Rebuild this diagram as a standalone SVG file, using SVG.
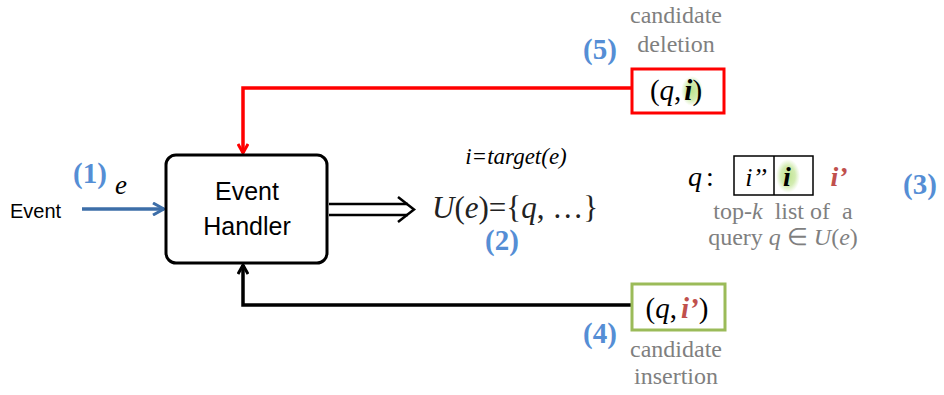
<svg xmlns="http://www.w3.org/2000/svg" width="944" height="395" viewBox="0 0 944 395">
<style>
.num{font-weight:bold;fill:#558ED5;font-size:29px}
.gray{fill:#7f7f7f;font-size:24px}
</style>
<defs>
<marker id="ar" markerWidth="12" markerHeight="12" refX="10" refY="6" orient="auto" markerUnits="userSpaceOnUse"><path d="M1,1 L10,6 L1,11" fill="none" stroke="#ff0000" stroke-width="3"/></marker>
<marker id="ab" markerWidth="12" markerHeight="12" refX="10" refY="6" orient="auto" markerUnits="userSpaceOnUse"><path d="M1,1 L10,6 L1,11" fill="none" stroke="#000" stroke-width="3"/></marker>
<marker id="abl" markerWidth="14" markerHeight="14" refX="12" refY="7" orient="auto" markerUnits="userSpaceOnUse"><path d="M1,1 L12,7 L1,13" fill="none" stroke="#3d6ea8" stroke-width="3"/></marker>
<radialGradient id="glow"><stop offset="0" stop-color="#bfe38f"/><stop offset="0.6" stop-color="#d3ecb2"/><stop offset="1" stop-color="#d8eebb" stop-opacity="0"/></radialGradient>
</defs>
<g id="connectors">
<path d="M632,88 H243 V153" fill="none" stroke="#ff0000" stroke-width="3.5" marker-end="url(#ar)"/>
<path d="M632,305 H243 V265" fill="none" stroke="#000" stroke-width="3.5" marker-end="url(#ab)"/>
<line x1="82" y1="209" x2="164" y2="209" stroke="#3d6ea8" stroke-width="3.5" marker-end="url(#abl)"/>
<g fill="none" stroke="#000" stroke-width="2.5">
<line x1="329" y1="204" x2="408" y2="204"/>
<line x1="329" y1="215" x2="408" y2="215"/>
<path d="M398,197 L414,209.5 L398,222"/>
</g>
</g>
<g id="input">
<text x="10" y="218" font-family="Liberation Sans" font-size="20">Event</text>
<text x="73" y="183" font-family="Liberation Serif" class="num">(1)</text>
<text x="115" y="194" font-family="Liberation Serif" font-size="27" font-style="italic">e</text>
</g>
<g id="handler">
<rect x="166" y="155" width="161" height="108" rx="10" fill="#fff" stroke="#000" stroke-width="3"/>
<text x="247" y="200" font-family="Liberation Sans" font-size="25" text-anchor="middle">Event</text>
<text x="247" y="235" font-family="Liberation Sans" font-size="25" text-anchor="middle">Handler</text>
</g>
<g id="result">
<text x="516" y="164" font-family="Liberation Serif" font-size="23" font-style="italic" text-anchor="middle">i=target(e)</text>
<text x="432" y="218" font-family="Liberation Serif" font-size="31" fill="#222"><tspan font-style="italic">U</tspan>(<tspan font-style="italic">e</tspan>)={<tspan font-style="italic">q</tspan>, …}</text>
<text x="502" y="250" font-family="Liberation Serif" class="num" text-anchor="middle">(2)</text>
</g>
<g id="topk">
<text x="688" y="186" font-family="Liberation Serif" font-size="28" font-style="italic">q<tspan font-style="normal" dx="4">:</tspan></text>
<rect x="734" y="156" width="79" height="39" fill="#fff" stroke="#000" stroke-width="1.5"/>
<line x1="774" y1="156" x2="774" y2="195" stroke="#000" stroke-width="1.5"/>
<ellipse cx="788" cy="176" rx="12" ry="17" fill="url(#glow)"/>
<text x="756" y="186" font-family="Liberation Serif" font-size="26" font-style="italic" text-anchor="middle">i’’</text>
<text x="787" y="186" font-family="Liberation Serif" font-size="28" font-style="italic" font-weight="bold" text-anchor="middle">i</text>
<text x="839" y="186" font-family="Liberation Serif" font-size="28" font-style="italic" font-weight="bold" fill="#c0504d" text-anchor="middle">i’</text>
<text x="920" y="194" font-family="Liberation Serif" class="num" text-anchor="middle">(3)</text>
<text x="783" y="219" font-family="Liberation Serif" class="gray" text-anchor="middle" xml:space="preserve">top-<tspan font-style="italic">k</tspan>  list of  a</text>
<text x="783" y="245" font-family="Liberation Serif" class="gray" text-anchor="middle">query <tspan font-style="italic">q</tspan> ∈ <tspan font-style="italic">U</tspan>(<tspan font-style="italic">e</tspan>)</text>
</g>
<g id="deletion">
<text x="676" y="23" font-family="Liberation Serif" class="gray" text-anchor="middle">candidate</text>
<text x="676" y="52" font-family="Liberation Serif" class="gray" text-anchor="middle">deletion</text>
<text x="600" y="59" font-family="Liberation Serif" class="num" text-anchor="middle">(5)</text>
<rect x="632" y="69" width="92" height="44" fill="#fff" stroke="#ff0000" stroke-width="3"/>
<ellipse cx="692" cy="91" rx="11" ry="15" fill="url(#glow)"/>
<text x="676" y="100" font-family="Liberation Serif" font-size="29" text-anchor="middle">(<tspan font-style="italic">q</tspan>,<tspan font-style="italic" font-weight="bold" dx="3">i</tspan>)</text>
</g>
<g id="insertion">
<rect x="632" y="284" width="93" height="46" fill="#fff" stroke="#9bbb59" stroke-width="3"/>
<text x="677" y="318" font-family="Liberation Serif" font-size="29" text-anchor="middle">(<tspan font-style="italic">q</tspan>,<tspan font-style="italic" font-weight="bold" fill="#c0504d" dx="4">i’</tspan>)</text>
<text x="600" y="343" font-family="Liberation Serif" class="num" text-anchor="middle">(4)</text>
<text x="676" y="357" font-family="Liberation Serif" class="gray" text-anchor="middle">candidate</text>
<text x="676" y="384" font-family="Liberation Serif" class="gray" text-anchor="middle">insertion</text>
</g>
</svg>
